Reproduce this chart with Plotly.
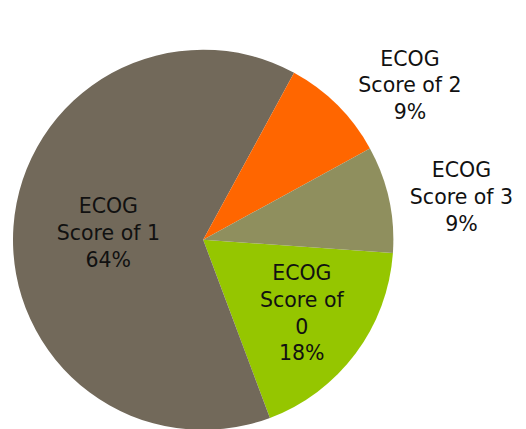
import plotly.graph_objects as go

labels = ["ECOG<br>Score of<br>0", "ECOG<br>Score of 1", "ECOG<br>Score of 2", "ECOG<br>Score of 3"]
values = [2, 7, 1, 1]
colors = ["#95C600", "#72695A", "#FF6600", "#8F8F5E"]
positions = ["inside", "inside", "outside", "outside"]

W, H = 526, 429
x0, x1 = 0, 384          # domain pixel span (horizontal)
top, bottom = 41, 427    # domain pixel span (vertical)

fig = go.Figure(go.Pie(
    labels=labels,
    values=values,
    sort=False,
    direction="clockwise",
    rotation=94,
    marker=dict(colors=colors, line=dict(width=0)),
    texttemplate="%{label}<br>%{percent:.0%}",
    textposition=positions,
    insidetextorientation="horizontal",
    textfont=dict(family="DejaVu Sans, sans-serif", size=21, color="#111111"),
    showlegend=False,
    hoverinfo="label+percent",
    domain=dict(x=[x0 / W, x1 / W], y=[(H - bottom) / H, (H - top) / H]),
))

fig.update_layout(
    width=W, height=H,
    margin=dict(l=0, r=0, t=0, b=0),
    paper_bgcolor="white",
    plot_bgcolor="white",
    uniformtext=dict(minsize=18, mode="show"),
)

fig.write_html("out.html")
